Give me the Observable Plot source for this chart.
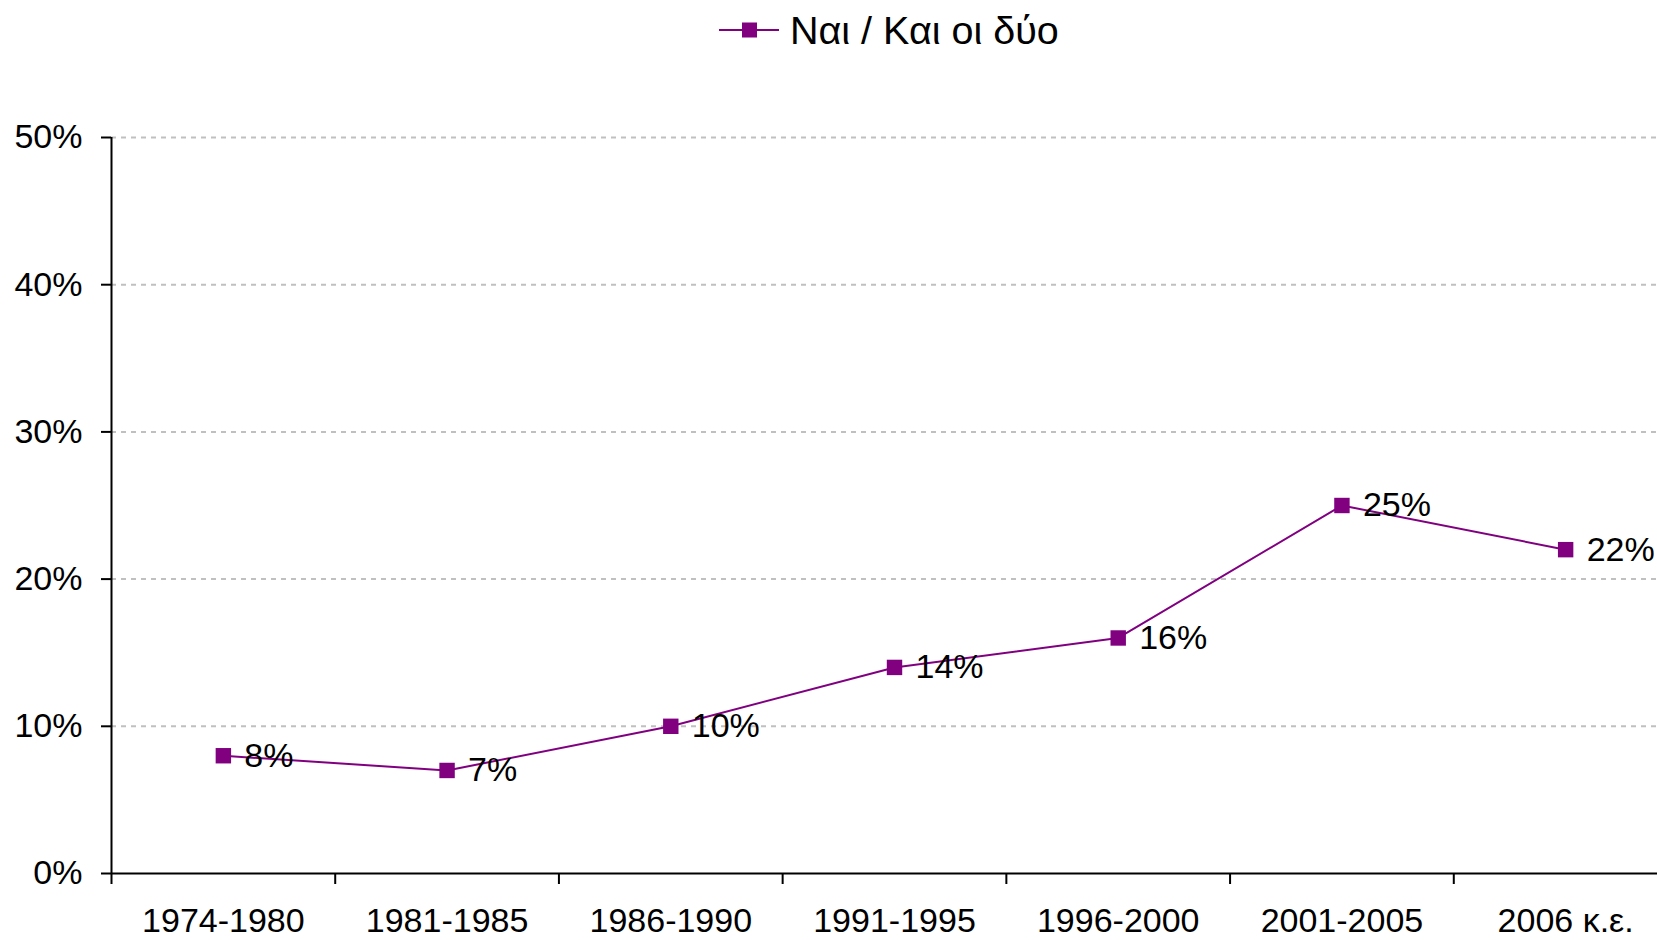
<!DOCTYPE html>
<html>
<head>
<meta charset="utf-8">
<script src="https://cdn.jsdelivr.net/npm/d3@7"></script>
<script src="https://cdn.jsdelivr.net/npm/@observablehq/plot@0.6"></script>
<style>
  html, body { margin: 0; padding: 0; background: #fff; overflow: hidden; }
  body { width: 1657px; height: 940px; font-family: "Liberation Sans", Arial, sans-serif; }
  #legend { position: relative; height: 60px; }
  #legend .item { position: absolute; left: 719px; top: 8px; display: flex; align-items: center; font-size: 39.5px; color: #000; line-height: 44px; }
  #legend svg { margin-right: 11px; }
</style>
</head>
<body>
<div id="legend"></div>
<div id="chart"></div>
<script>
const categories = ["1974-1980", "1981-1985", "1986-1990", "1991-1995", "1996-2000", "2001-2005", "2006 κ.ε."];
const values = [8, 7, 10, 14, 16, 25, 22];
const seriesName = "Ναι / Και οι δύο";
const yTicks = [0, 10, 20, 30, 40, 50];
const color = "#800080";

const data = categories.map((c, i) => ({i, category: c, value: values[i]}));
const boundaries = d3.range(categories.length).map(i => i - 0.5);

// legend
const legend = document.getElementById("legend");
legend.innerHTML = `<div class="item"><svg width="60" height="20"><line x1="0" x2="60" y1="10" y2="10" stroke="${color}" stroke-width="2"/><rect x="23" y="2.5" width="15" height="15" fill="${color}"/></svg><span>${seriesName}</span></div>`;

const chart = Plot.plot({
  width: 1657,
  height: 880,
  marginTop: 77,
  marginBottom: 67,
  marginLeft: 111,
  marginRight: 0,
  style: {fontFamily: "Liberation Sans, Arial, sans-serif", fontSize: "34px", background: "#fff", color: "#000", overflow: "visible"},
  x: {type: "linear", domain: [-0.5, categories.length - 0.5], range: [111, 1677]},
  y: {domain: [0, 50], range: [813, 77]},
  marks: [
    Plot.gridY(yTicks.filter(d => d > 0), {stroke: "#c0c0c0", strokeOpacity: 1, strokeWidth: 2, strokeDasharray: "5,5"}),
    Plot.ruleY([0], {stroke: "#000", strokeWidth: 2}),
    Plot.ruleX([-0.5], {y1: 0, y2: 50, stroke: "#000", strokeWidth: 2}),
    Plot.axisY({ticks: yTicks, tickSize: 10, tickPadding: 19, strokeWidth: 2, tickFormat: d => d + "%", fontSize: 34, label: null}),
    Plot.axisX({ticks: boundaries, tickSize: 11, strokeWidth: 2, tickFormat: () => "", label: null}),
    Plot.axisX({ticks: d3.range(categories.length), tickSize: 0, tickPadding: 34, tickFormat: i => categories[i], fontSize: 34, label: null}),
    Plot.line(data, {x: "i", y: "value", stroke: color, strokeWidth: 2}),
    Plot.dot(data, {x: "i", y: "value", symbol: "square", r: 8.7, fill: color, stroke: "none"}),
    Plot.text(data, {x: "i", y: "value", text: d => d.value + "%", dx: 21, textAnchor: "start", fontSize: 34, fill: "#000"})
  ]
});
document.getElementById("chart").appendChild(chart);
</script>
</body>
</html>
